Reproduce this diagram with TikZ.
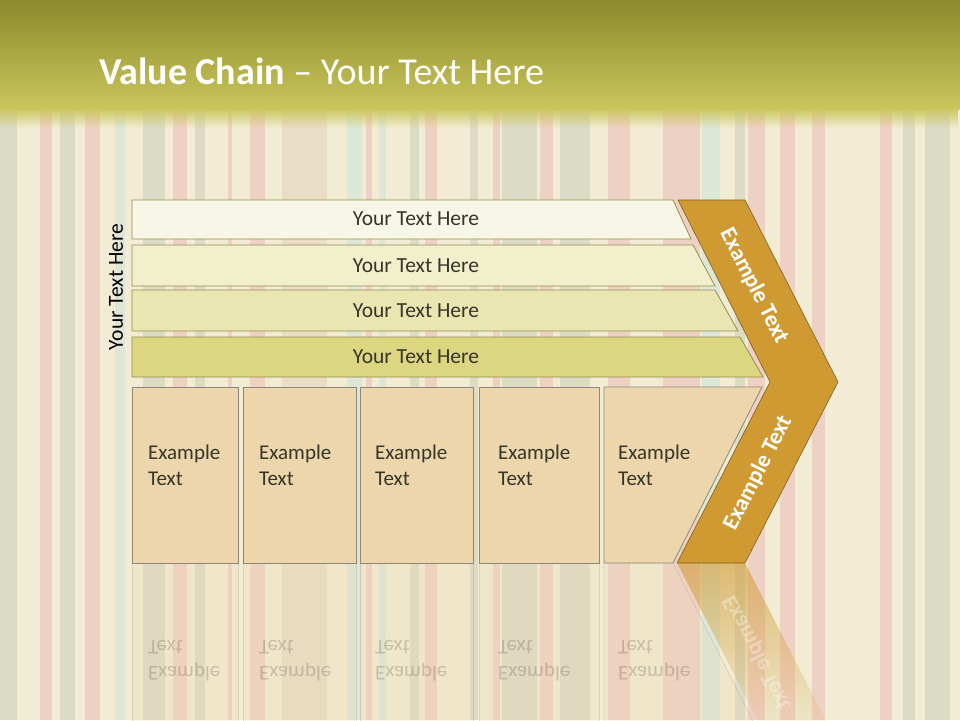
\documentclass[tikz,border=0pt]{standalone}
\usepackage{fontspec}
\setmainfont{Carlito}
\usepackage{xcolor}
\usepackage{tikz}
\usetikzlibrary{positioning, fadings}

\definecolor{fondo}{HTML}{F1ECD3}
\definecolor{cabarriba}{HTML}{8B892C}
\definecolor{cababajo}{HTML}{CBC65C}
\definecolor{barraA}{HTML}{F8F6E6}
\definecolor{barraB}{HTML}{F2EFCC}
\definecolor{barraC}{HTML}{EAE6B2}
\definecolor{barraD}{HTML}{DCD680}
\definecolor{bordeolivo}{HTML}{958C4E}
\definecolor{cajafondo}{HTML}{EDD6AC}
\definecolor{cajaborde}{HTML}{8C877A}
\definecolor{galon}{HTML}{D09A32}
\definecolor{galonborde}{HTML}{7E5E1E}
\definecolor{textogris}{HTML}{353528}
\definecolor{rosa}{HTML}{EDC3BE}
\definecolor{gris}{HTML}{D1D2BF}
\definecolor{verdeagua}{HTML}{D2E5DA}
\definecolor{canela}{HTML}{E5D6C0}

\tikzset{
  barra/.style={draw=bordeolivo, line width=0.8pt},
  caja/.style={draw=cajaborde, fill=cajafondo, line width=0.8pt},
  galonforma/.style={draw=galonborde, fill=galon, line width=0.6pt},
  textobarra/.style={font=\fontsize{21.5}{25}\selectfont, text=textogris, inner sep=0pt},
  textocaja/.style={font=\fontsize{21}{26}\selectfont, text=textogris, align=left,
    anchor=north west, inner sep=0pt},
  textogalon/.style={font=\fontsize{23}{27}\selectfont\bfseries, text=white, inner sep=0pt},
}

\begin{document}
\begin{tikzpicture}[x=1pt, y=-1pt]
    \useasboundingbox (0,0) rectangle (960,720);
    \clip (0,0) rectangle (960,720);

    % Fondo de rayas
    \fill[fondo] (0,0) rectangle (960,720);
    \foreach \xa/\xb/\col in {0/17/gris, 40/52/rosa, 60/75/gris, 85/100/rosa,
        115/125/verdeagua, 143/165/gris, 173/187/rosa, 195/205/gris, 228/232/rosa,
        250/265/rosa, 282/327/canela, 347/362/verdeagua, 366/372/rosa, 379/386/verdeagua,
        410/419/gris, 425/437/rosa, 470/478/gris, 493/500/rosa, 502/537/gris,
        540/553/rosa, 560/590/gris, 608/630/rosa, 663/700/rosa, 702/720/verdeagua,
        735/745/gris, 748/765/rosa, 780/795/rosa, 812/825/rosa, 880/892/rosa,
        903/915/gris, 925/950/gris}
      \fill[\col, opacity=0.65] (\xa,0) rectangle (\xb,720);

    % Cabecera
    \shade[top color=cabarriba, bottom color=cababajo] (0,0) rectangle (960,109);
    \fill[cababajo, path fading=south] (0,108) rectangle (960,128);
    \node[anchor=base west, text=white, inner sep=0pt, font=\fontsize{38}{42}\selectfont]
      (titulo) at (99,84) {\textbf{Value Chain} – Your Text Here};

    % Barras superiores
    \draw[barra, fill=barraA] (132,200) -- (673,200) -- (691,239) -- (132,239) -- cycle;
    \draw[barra, fill=barraB] (132,245) -- (693,245) -- (715,286) -- (132,286) -- cycle;
    \draw[barra, fill=barraC] (132,290) -- (715,290) -- (738,331) -- (132,331) -- cycle;
    \draw[barra, fill=barraD] (132,337) -- (740,337) -- (763,377) -- (132,377) -- cycle;
    \node[textobarra] (barra1) at (416,219) {Your Text Here};
    \node[textobarra] (barra2) at (416,266) {Your Text Here};
    \node[textobarra] (barra3) at (416,311) {Your Text Here};
    \node[textobarra] (barra4) at (416,357) {Your Text Here};
    \node[textobarra, rotate=90, text=black] (lateral) at (116,287) {Your Text Here};

    % Reflejo
    \begin{scope}[yshift=-1126pt, yscale=-1, opacity=0.22]
      \draw[caja] (132,387) rectangle (238,563);
      \draw[caja] (243,387) rectangle (356,563);
      \draw[caja] (360,387) rectangle (473,563);
      \draw[caja] (479,387) rectangle (599,563);
      \draw[caja] (604,387) -- (762,387) -- (673,563) -- (604,563) -- cycle;
      \node[textocaja, transform shape] (refl1) at (148,445) {Example\\Text};
      \node[textocaja, transform shape] (refl2) at (259,445) {Example\\Text};
      \node[textocaja, transform shape] (refl3) at (375,445) {Example\\Text};
      \node[textocaja, transform shape] (refl4) at (498,445) {Example\\Text};
      \node[textocaja, transform shape] (refl5) at (618,445) {Example\\Text};
    \end{scope}
    \fill[galon, path fading=south, opacity=0.6] (677,563) -- (745,563) -- (838,744)
      -- (770,744) -- cycle;
    \begin{scope}[yshift=-1126pt, yscale=-1]
      \node[textogalon, rotate=63, transform shape, opacity=0.35] (reflgalon) at (757,473) {Example Text};
    \end{scope}

    % Cajas inferiores
    \draw[caja] (132,387) rectangle (238,563);
    \draw[caja] (243,387) rectangle (356,563);
    \draw[caja] (360,387) rectangle (473,563);
    \draw[caja] (479,387) rectangle (599,563);
    \draw[caja] (604,387) -- (762,387) -- (673,563) -- (604,563) -- cycle;
    \node[textocaja] (caja1) at (148,445) {Example\\Text};
    \node[textocaja] (caja2) at (259,445) {Example\\Text};
    \node[textocaja] (caja3) at (375,445) {Example\\Text};
    \node[textocaja] (caja4) at (498,445) {Example\\Text};
    \node[textocaja] (caja5) at (618,445) {Example\\Text};

    % Galon (flecha de margen)
    \draw[galonforma] (678,200) -- (745,200) -- (838,382) -- (745,563) -- (677,563)
      -- (770,382) -- cycle;
    \node[textogalon, rotate=-63] (galon1) at (754,286) {Example Text};
    \node[textogalon, rotate=63] (galon2) at (758,473) {Example Text};
\end{tikzpicture}
\end{document}
